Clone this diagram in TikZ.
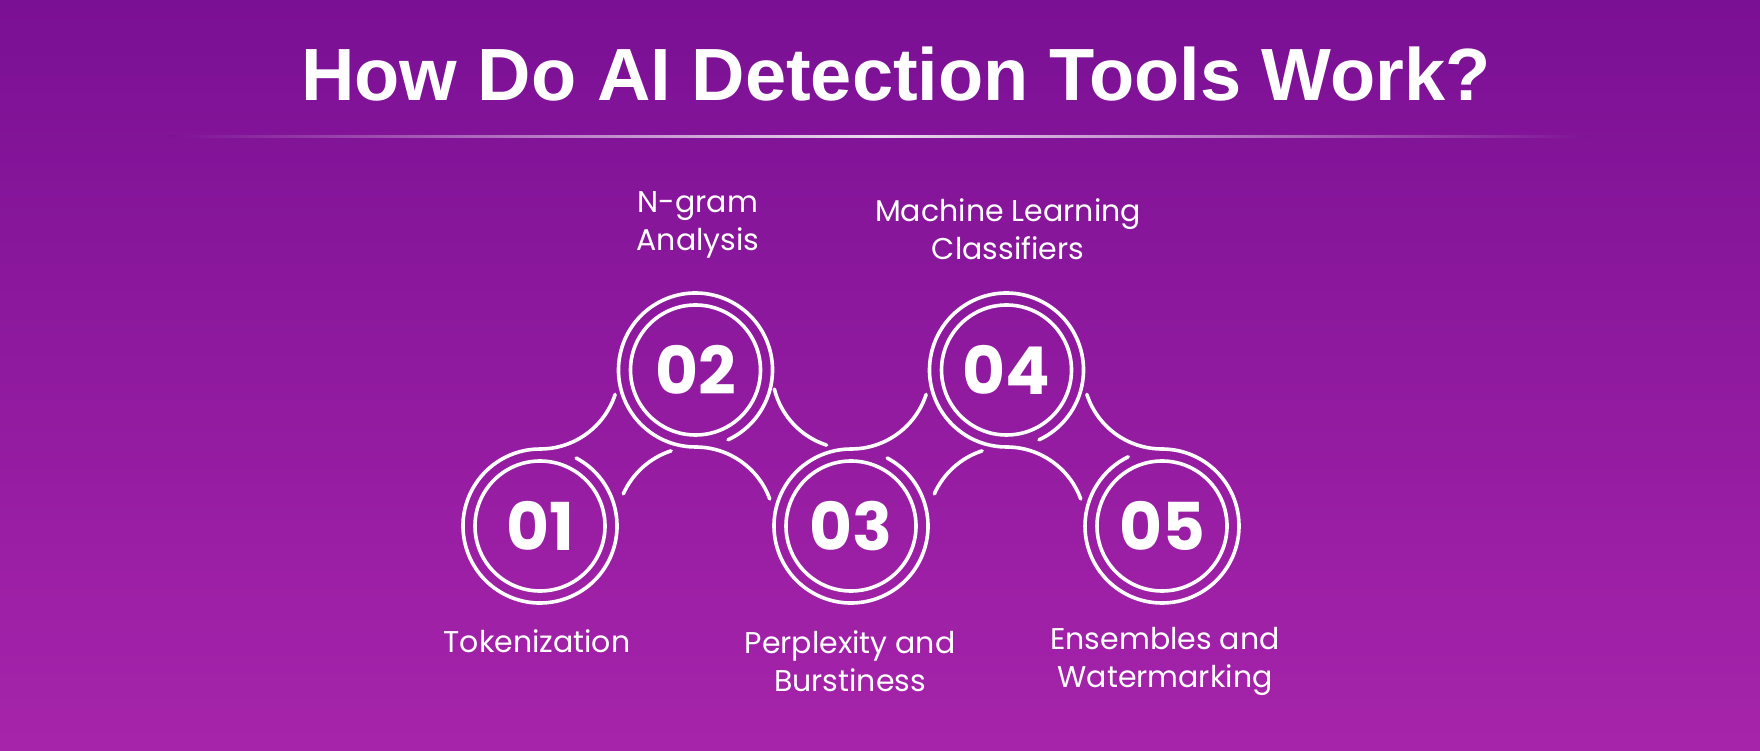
\documentclass[tikz,border=0pt]{standalone}
\usepackage{fontspec}
\setmainfont{Poppins}
\newfontfamily\titlefont{Liberation Sans}
\begin{document}
\begin{tikzpicture}[x=0.5pt,y=0.5pt,
  ring/.style={draw=white,line width=1.8pt,line cap=round},
  num/.style={text=white,font=\fontsize{33}{33}\selectfont\bfseries},
  lbl/.style={text=white,font=\fontsize{15}{19}\selectfont,align=center}]
\definecolor{bgtop}{RGB}{122,16,148}
\definecolor{bgbot}{RGB}{166,36,170}
\useasboundingbox (0,0) rectangle (1760,750);
\fill[top color=bgtop,bottom color=bgbot] (0,0) rectangle (1760,750);
\shade[left color=bgtop!90!bgbot,right color=white!85!bgtop] (168,612) rectangle (880,614.5);
\shade[left color=white!85!bgtop,right color=bgtop!90!bgbot] (880,612) rectangle (1594,614.5);
\node[text=white,font=\titlefont\fontsize{37}{37}\selectfont\bfseries] (title) at (896,676) {How Do AI Detection Tools Work?};
% centres
\coordinate (c1) at (540,224); \coordinate (c2) at (695.5,380);
\coordinate (c3) at (851,224); \coordinate (c4) at (1006.5,380);
\coordinate (c5) at (1162,224);
\coordinate (v1) at (540,380); \coordinate (v2) at (695.5,224);
\coordinate (v3) at (851,380); \coordinate (v4) at (1006.5,224);
\coordinate (v5) at (1162,380);
\foreach \c in {c1,c2,c3,c4,c5} \draw[ring] (\c) circle[radius=65];
% chain
\draw[ring] ([shift={(62:77)}]c1) arc[start angle=62,end angle=-270,radius=77] arc[start angle=270,end angle=342,radius=79];
\draw[ring] ([shift={(-65:77)}]c2) arc[start angle=-65,end angle=270,radius=77] arc[start angle=90,end angle=20,radius=79];
\draw[ring] ([shift={(62:77)}]c3) arc[start angle=62,end angle=-270,radius=77] arc[start angle=270,end angle=342,radius=79];
\draw[ring] ([shift={(-65:77)}]c4) arc[start angle=-65,end angle=270,radius=77] arc[start angle=90,end angle=20,radius=79];
\draw[ring] ([shift={(198:79)}]v5) arc[start angle=198,end angle=270,radius=79] arc[start angle=90,end angle=-244,radius=77];
\draw[ring] ([shift={(108:79)}]v2) arc[start angle=108,end angle=156,radius=79];
\draw[ring] ([shift={(108:79)}]v4) arc[start angle=108,end angle=156,radius=79];
\draw[ring] ([shift={(194:79)}]v3) arc[start angle=194,end angle=252,radius=79];
% numbers
\node[num] (n1) at (c1) {01}; \node[num] (n2) at (c2) {02};
\node[num] (n3) at (c3) {03}; \node[num] (n4) at (c4) {04};
\node[num] (n5) at (c5) {05};
% labels
\node[lbl] (l2) at (698,525) {N-gram\\Analysis};
\node[lbl] (l4) at (1008,521) {Machine Learning\\Classifiers};
\node[lbl] (l1) at (537,109) {Tokenization};
\node[lbl] (l3) at (850,89) {Perplexity and\\Burstiness};
\node[lbl] (l5) at (1165,89) {Ensembles and\\Watermarking};
\end{tikzpicture}
\end{document}
